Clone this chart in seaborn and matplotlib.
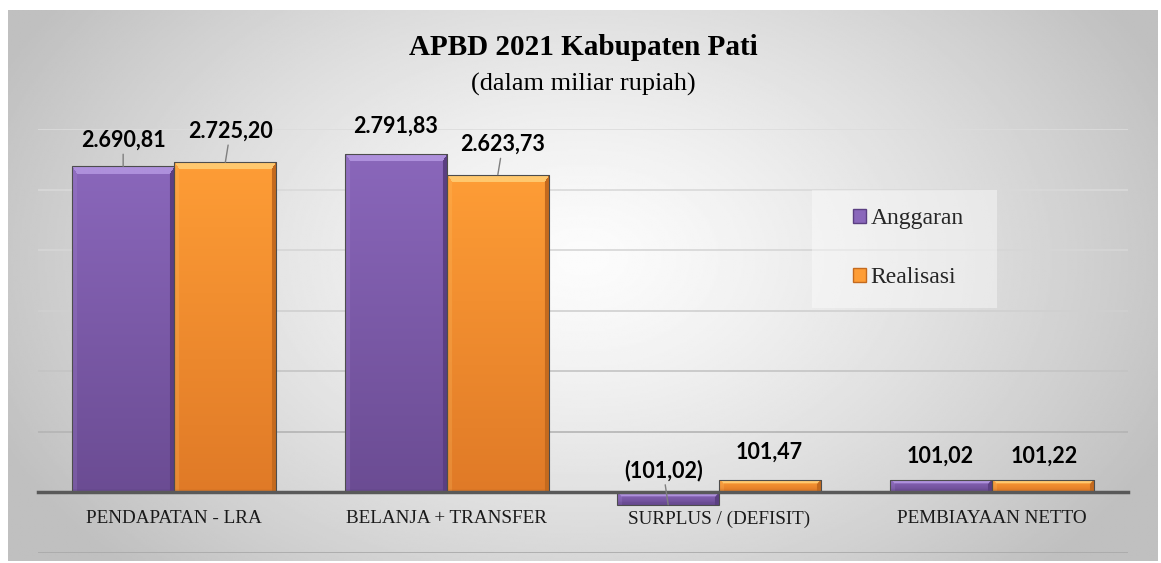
import numpy as np
import pandas as pd
import seaborn as sns
import matplotlib.pyplot as plt
from matplotlib.patches import Patch, Rectangle
from matplotlib.colors import to_rgb

categories = ["PENDAPATAN - LRA", "BELANJA + TRANSFER", "SURPLUS / (DEFISIT)", "PEMBIAYAAN NETTO"]
series = ["Anggaran", "Realisasi"]
anggaran = [2690.81, 2791.83, -101.02, 101.02]
realisasi = [2725.20, 2623.73, 101.47, 101.22]

# where the value labels sit (pixels from the bar end) and which get a leader line
label_shift = {"Anggaran": [(0, 26), (0, 28), (-5, 34), (0, 24)],
               "Realisasi": [(5, 31), (5, 30), (-1, 28), (1, 24)]}
leader = {"Anggaran": [True, False, True, False],
          "Realisasi": [True, True, False, False]}

# bar shading: top colour, bottom colour, bevel light, bevel dark
shades = {"Anggaran": ("#8a67bb", "#6b4c93", "#ae90dc", "#5b3f82"),
          "Realisasi": ("#fe9d36", "#e07a27", "#ffc86e", "#c46a1e")}

W, H, DPI = 1161, 563, 100
Y_MIN, Y_MAX = -500, 3000


def fmt(v):
    s = f"{abs(v):,.2f}".replace(",", "X").replace(".", ",").replace("X", ".")
    return f"({s})" if v < 0 else s


def bevel_image(cols, h_px, w_px):
    top_c, bot_c, light, dark = [np.array(to_rgb(c)) for c in cols]
    h = max(int(round(h_px)), 3)
    w = max(int(round(w_px)), 3)
    t = np.linspace(0, 1, h)[:, None, None]
    img = np.ones((h, w, 3)) * (top_c * (1 - t) + bot_c * t)
    yi = np.arange(h)[:, None]
    xi = np.arange(w)[None, :]
    bt = min(8, max(2, h // 3))
    bs = 5
    left = (xi < bs) & (yi >= 0)
    img[left] = img[left] * 0.8 + light * 0.2
    img[((w - 1 - xi) < bs) & (yi >= 0)] = dark
    bottom = ((h - 1 - yi) < 3) & (xi >= 0)
    img[bottom] = img[bottom] * 0.8 + dark * 0.2
    top = (yi < bt) & (yi * bs <= xi * bt) & (yi * bs <= (w - 1 - xi) * bt)
    img[top] = light
    return img


df = pd.DataFrame({"kategori": categories * 2,
                   "seri": [series[0]] * 4 + [series[1]] * 4,
                   "nilai": anggaran + realisasi})

sns.set_theme(style="white")
plt.rcParams["font.family"] = ["Liberation Serif", "DejaVu Serif"]

fig = plt.figure(figsize=(W / DPI, H / DPI), dpi=DPI)
fig.patch.set_facecolor("white")

# grey radial background of the chart area
bg = fig.add_axes([8 / W, 1 - 561 / H, 1150 / W, 551 / H], zorder=-5)
yy, xx = np.mgrid[0:1:300j, 0:1:600j]
d = np.sqrt(((xx - 0.5) / 0.5) ** 2 + (0.7 * (yy - 0.55) / 0.5) ** 2)
shade = np.clip(252 - 52 * d ** 1.3, 192, 252) / 255
bg.imshow(shade, cmap="gray", vmin=0, vmax=1, aspect="auto", extent=(0, 1, 0, 1), origin="lower")
bg.axis("off")

ax = fig.add_axes([38 / W, 1 - 553 / H, 1090 / W, 424 / H])
ax.set_facecolor("none")
pal = {s: shades[s][0] for s in series}
sns.barplot(data=df, x="kategori", y="nilai", hue="seri", palette=pal, width=0.75,
            errorbar=None, legend=False, ax=ax, zorder=3)

px_y = 424 / (Y_MAX - Y_MIN)
px_x = 1090 / 4
for s, cont in zip(series, ax.containers):
    for i, bar in enumerate(cont):
        x0, w = bar.get_x(), bar.get_width()
        y0, h = bar.get_y(), bar.get_height()
        lo, hi = min(y0, y0 + h), max(y0, y0 + h)
        img = bevel_image(shades[s], (hi - lo) * px_y, w * px_x)
        im = ax.imshow(img, extent=(x0, x0 + w, lo, hi), aspect="auto", zorder=3, interpolation="bilinear")
        im.set_clip_path(bar)
        bar.set_facecolor("none")
        bar.set_edgecolor("#4d4d4d")
        bar.set_linewidth(0.8)
        bar.set_zorder(3.2)

        v = bar.get_height()
        xc = x0 + w / 2
        dx, dy = label_shift[s][i]
        arrow = dict(arrowstyle="-", color="#7f7f7f", lw=1, shrinkA=0, shrinkB=0) if leader[s][i] else None
        ax.annotate(fmt(v), xy=(xc, v), xytext=(dx, dy), textcoords="offset pixels",
                    ha="center", va="center", fontsize=15.5, fontweight="bold",
                    family=["Lato", "DejaVu Sans"], color="black", arrowprops=arrow, zorder=5)

ax.set_xlim(-0.5, 3.5)
ax.set_ylim(Y_MIN, Y_MAX)
ax.set_yticks(np.arange(Y_MIN, Y_MAX + 1, 500))
ax.set_yticklabels([])
ax.yaxis.grid(True, linewidth=1.2)
grid_cols = {3000: "#dcdcdc", 2500: "#d9d9d9", 2000: "#d6d6d6", 1500: "#d0d0d0",
             1000: "#c4c4c4", 500: "#b4b4b4", 0: "#b4b4b4", -500: "#a8a8a8"}
for val, gl in zip(ax.get_yticks(), ax.get_ygridlines()):
    gl.set_color(grid_cols.get(int(val), "#d0d0d0"))
ax.set_axisbelow(True)

for side in ["left", "right", "top"]:
    ax.spines[side].set_visible(False)
ax.spines["bottom"].set_position(("data", 0))
ax.spines["bottom"].set_color("#595959")
ax.spines["bottom"].set_linewidth(2.5)
ax.spines["bottom"].set_zorder(4)
ax.tick_params(axis="both", length=0)
ax.tick_params(axis="x", pad=13, labelsize=13.8, labelcolor="#1a1a1a")
ax.set_xlabel("")
ax.set_ylabel("")

# legend with its pale box
fig.add_artist(Rectangle((812 / W, 1 - 308 / H), 185 / W, 118 / H, transform=fig.transFigure,
                         facecolor="white", alpha=0.4, edgecolor="none", zorder=1))
handles = [Patch(facecolor=shades[s][0], edgecolor=shades[s][3]) for s in series]
fig.legend(handles, series, loc="upper left", bbox_to_anchor=(853 / W, 1 - 208 / H),
           frameon=False, fontsize=17, handlelength=0.55, handleheight=0.55,
           handletextpad=0.2, labelspacing=1.62, borderpad=0, borderaxespad=0)

fig.text(583 / W, 1 - 55 / H, "APBD 2021 Kabupaten Pati", ha="center", va="baseline",
         fontsize=21, fontweight="bold", color="black")
fig.text(583 / W, 1 - 91 / H, "(dalam miliar rupiah)", ha="center", va="baseline",
         fontsize=18.9, color="black")

fig.savefig("out.png", dpi=DPI)
